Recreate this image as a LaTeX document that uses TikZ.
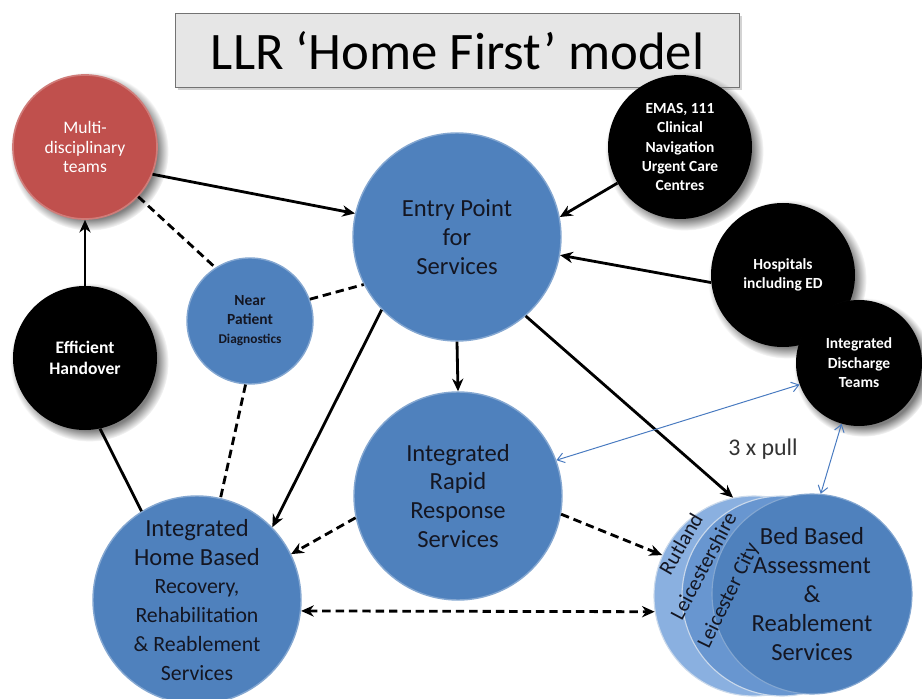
\documentclass[tikz,border=0pt]{standalone}
\usepackage{fontspec}
\setmainfont{Carlito}
\usepackage{tikz}
\usetikzlibrary{arrows.meta, shadows}
\definecolor{myblue}{RGB}{79,129,189}
\definecolor{mymidblue}{RGB}{104,150,208}
\definecolor{mylightblue}{RGB}{138,176,224}
\definecolor{myred}{RGB}{192,80,77}
\definecolor{mydark}{RGB}{20,22,34}
\definecolor{mygrey}{RGB}{230,230,230}
\definecolor{mylink}{RGB}{72,122,192}
\tikzset{
  bignode/.style={circle, draw=myblue!70!white, fill=myblue, line width=1pt,
    text=mydark, align=center, inner sep=0pt, minimum size=5.2cm,
    font=\fontsize{17.5}{20.6}\selectfont},
  smallblue/.style={circle, draw=myblue!70!white, fill=myblue, line width=1pt,
    text=mydark, align=center, inner sep=0pt, minimum size=3.15cm,
    font=\fontsize{11}{13.5}\selectfont\bfseries},
  blacknode/.style={circle, fill=black, text=white, align=center, inner sep=0pt,
    minimum size=3.6cm, font=\fontsize{11}{13.8}\selectfont\bfseries,
    circular drop shadow={shadow xshift=.1cm, shadow yshift=-.1cm}},
  rednode/.style={circle, draw=myred!75!white, fill=myred, line width=1.2pt,
    text=white, align=center, inner sep=0pt, minimum size=3.6cm,
    font=\fontsize{12.5}{14.2}\selectfont,
    circular drop shadow={shadow xshift=.1cm, shadow yshift=-.1cm}},
  bedring/.style={circle, draw=white!70!myblue, line width=0.8pt, inner sep=0pt,
    minimum size=5cm},
  area/.style={text=mydark, inner sep=0pt, font=\fontsize{15}{17}\selectfont},
  arrow/.style={-{Stealth[length=9pt, width=8pt]}, line width=2pt, color=black},
  line/.style={line width=2pt, color=black},
  dashline/.style={line width=2pt, color=black, dash pattern=on 6pt off 3.5pt},
  dasharrow/.style={dashline, -{Stealth[length=9pt, width=8pt]}},
  pullarrow/.style={{Straight Barb[length=5pt, width=7pt]}-{Straight Barb[length=5pt, width=7pt]},
    line width=0.7pt, color=mylink}
}
\newcommand{\subline}[1]{{\fontsize{15.5}{17.7}\selectfont #1}}

\begin{document}
\begin{tikzpicture}
  \useasboundingbox (0,0) rectangle (23.05,17.45);

  % Title
  \node[draw=black!55, fill=mygrey, line width=1pt, minimum width=14.1cm,
    minimum height=1.85cm, font=\fontsize{37.5}{44}\selectfont,
    drop shadow={shadow xshift=2pt, shadow yshift=-2pt, opacity=.35}]
    (title) at (11.44,16.19) {LLR ‘Home First’ model};

  % Outer circles
  \node[rednode] (teams) at (2.125,13.775) {Multi-\\disciplinary\\teams};
  \node[blacknode, font=\fontsize{12.5}{15}\selectfont\bfseries] (handover) at (2.125,8.5) {Efficient\\Handover};
  \node[blacknode] (emas) at (17.0,13.775) {EMAS, 111\\Clinical\\Navigation\\Urgent Care\\Centres};
  \node[blacknode] (hospitals) at (19.575,10.575) {Hospitals\\including ED};
  \node[blacknode, minimum size=3.15cm] (discharge) at (21.475,8.375) {Integrated\\Discharge\\Teams};

  % Blue service circles
  \node[bignode] (entry) at (11.425,11.525) {Entry Point\\for\\Services};
  \node[smallblue] (near) at (6.25,9.425)
    {Near\\Patient\\{\fontsize{9.5}{11}\selectfont Diagnostics}};
  \node[bignode] (rapid) at (11.45,5.05) {Integrated\\Rapid\\Response\\Services};
  \node[bignode] (home) at (4.925,2.45)
    {Integrated\\Home Based\\\subline{Recovery,}\\\subline{Rehabilitation}\\\subline{\& Reablement}\\\subline{Services}};

  % Bed based cluster
  \node[bedring, fill=mylightblue] (rutland) at (18.85,2.55) {};
  \node[bedring, fill=mymidblue] (leics) at (19.55,2.55) {};
  \node[bedring, fill=myblue, draw=myblue!70!white, text=mydark, align=center,
    font=\fontsize{17.5}{20.6}\selectfont] (bed) at (20.3,2.6)
    {Bed Based\\Assessment\\\&\\Reablement\\Services};
  \node[area, rotate=60] at (17.02,3.85) {Rutland};
  \node[area, rotate=62] at (17.58,3.3) {Leicestershire};
  \node[area, rotate=64] at (18.22,2.55) {Leicester City};
  \node[text=black!80, font=\fontsize{17}{20}\selectfont] (pull) at (19.075,6.225) {3 x pull};

  % Connectors
  \draw[arrow] (teams.-22) -- (entry.167);
  \draw[arrow] (handover.90) -- (teams.-90);
  \draw[line] (handover.-78) -- (home.122);
  \draw[dashline] (teams.-43) -- (near.123);
  \draw[dashline] (near.20) -- (entry.207);
  \draw[dashline] (near.-94) -- (home.77);
  \draw[arrow] (emas.210) -- (entry.11);
  \draw[arrow] (hospitals.186) -- (entry.-10);
  \draw[arrow] (entry.-136) -- (home.44);
  \draw[arrow] (entry.-90) -- (rapid.90);
  \draw[arrow] (entry.-49) -- (rutland.102);
  \draw[dasharrow] (rapid.192) -- (home.26);
  \draw[dasharrow] (rapid.-10) -- (rutland.156);
  \draw[dashline, {Stealth[length=9pt, width=8pt]}-{Stealth[length=9pt, width=8pt]}] (home.-6) -- (rutland.189);
  \draw[pullarrow] (rapid.20) -- (discharge.200);
  \draw[pullarrow] (discharge.254) -- (bed.85);
\end{tikzpicture}
\end{document}
